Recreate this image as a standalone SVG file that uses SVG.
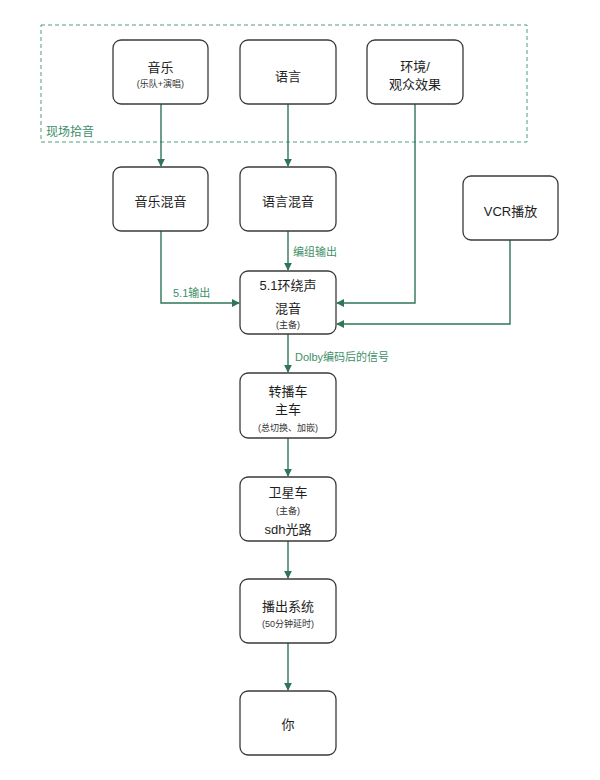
<svg xmlns="http://www.w3.org/2000/svg" width="600" height="780" viewBox="0 0 600 780">
<style>
.box{fill:#fff;stroke:#3a3a3a;stroke-width:1.3}
.t{font-family:"Liberation Sans","Noto Sans CJK SC",sans-serif;font-size:13px;fill:#1e1e1e;text-anchor:middle}
.s{font-family:"Liberation Sans","Noto Sans CJK SC",sans-serif;font-size:9px;fill:#333;text-anchor:middle}
.lbl{font-family:"Liberation Sans","Noto Sans CJK SC",sans-serif;font-size:11px;fill:#3d8f68}
.ln{fill:none;stroke:#2f7558;stroke-width:1.4}
</style>
<defs>
<marker id="ah" viewBox="0 0 10 10" refX="9" refY="5" markerWidth="8" markerHeight="8" markerUnits="userSpaceOnUse" orient="auto">
<path d="M0,0 L10,5 L0,10 z" fill="#2f7558"/>
</marker>
</defs>
<rect width="600" height="780" fill="#fff"/>
<g id="group-live">
<rect x="41" y="25" width="486" height="117" fill="none" stroke="#4f9f7c" stroke-width="1" stroke-dasharray="4,3"/>
<text x="46" y="136" style="font-family:'Liberation Sans','Noto Sans CJK SC',sans-serif;font-size:12px;fill:#3d8f68">现场拾音</text>
</g>
<g id="connectors">
<line class="ln" x1="161" y1="104" x2="161" y2="166" marker-end="url(#ah)"/>
<line class="ln" x1="288" y1="104" x2="288" y2="166" marker-end="url(#ah)"/>
<polyline class="ln" points="415,104 415,303 337,303" marker-end="url(#ah)"/>
<polyline class="ln" points="161,231 161,303 239,303" marker-end="url(#ah)"/>
<line class="ln" x1="288" y1="231" x2="288" y2="270" marker-end="url(#ah)"/>
<polyline class="ln" points="510,240 510,324 337,324" marker-end="url(#ah)"/>
<line class="ln" x1="288" y1="334" x2="288" y2="372" marker-end="url(#ah)"/>
<line class="ln" x1="288" y1="438" x2="288" y2="476" marker-end="url(#ah)"/>
<line class="ln" x1="288" y1="541" x2="288" y2="578" marker-end="url(#ah)"/>
<line class="ln" x1="288" y1="643" x2="288" y2="690" marker-end="url(#ah)"/>
<text class="lbl" x="173" y="297">5.1输出</text>
<text class="lbl" x="293" y="256">编组输出</text>
<text class="lbl" x="295" y="361">Dolby编码后的信号</text>
</g>
<g id="music">
<rect class="box" x="113" y="40" width="95" height="64" rx="8"/>
<text class="t" x="160.5" y="72">音乐</text>
<text class="s" x="160.5" y="87">(乐队+演唱)</text>
</g>
<g id="speech">
<rect class="box" x="240" y="40" width="96" height="64" rx="8"/>
<text class="t" x="288" y="81">语言</text>
</g>
<g id="ambience">
<rect class="box" x="367" y="40" width="96" height="64" rx="8"/>
<text class="t" x="415" y="71">环境/</text>
<text class="t" x="415" y="89">观众效果</text>
</g>
<g id="music-mix">
<rect class="box" x="113" y="167" width="95" height="64" rx="8"/>
<text class="t" x="160.5" y="206">音乐混音</text>
</g>
<g id="speech-mix">
<rect class="box" x="240" y="167" width="96" height="64" rx="8"/>
<text class="t" x="288" y="206">语言混音</text>
</g>
<g id="vcr">
<rect class="box" x="463" y="176" width="95" height="64" rx="8"/>
<text class="t" x="510.5" y="216">VCR播放</text>
</g>
<g id="surround">
<rect class="box" x="240" y="271" width="96" height="63" rx="8"/>
<text class="t" x="288" y="290">5.1环绕声</text>
<text class="t" x="288" y="313">混音</text>
<text class="s" x="288" y="328">(主备)</text>
</g>
<g id="ob-van">
<rect class="box" x="240" y="373" width="96" height="65" rx="8"/>
<text class="t" x="288" y="396">转播车</text>
<text class="t" x="288" y="414">主车</text>
<text class="s" x="288" y="431">(总切换、加嵌)</text>
</g>
<g id="satellite">
<rect class="box" x="240" y="477" width="96" height="64" rx="8"/>
<text class="t" x="288" y="497">卫星车</text>
<text class="s" x="288" y="514">(主备)</text>
<text class="t" x="288" y="534">sdh光路</text>
</g>
<g id="broadcast">
<rect class="box" x="240" y="579" width="96" height="64" rx="8"/>
<text class="t" x="288" y="611">播出系统</text>
<text class="s" x="288" y="627">(50分钟延时)</text>
</g>
<g id="you">
<rect class="box" x="240" y="691" width="96" height="64" rx="8"/>
<text class="t" x="288" y="729">你</text>
</g>
</svg>
